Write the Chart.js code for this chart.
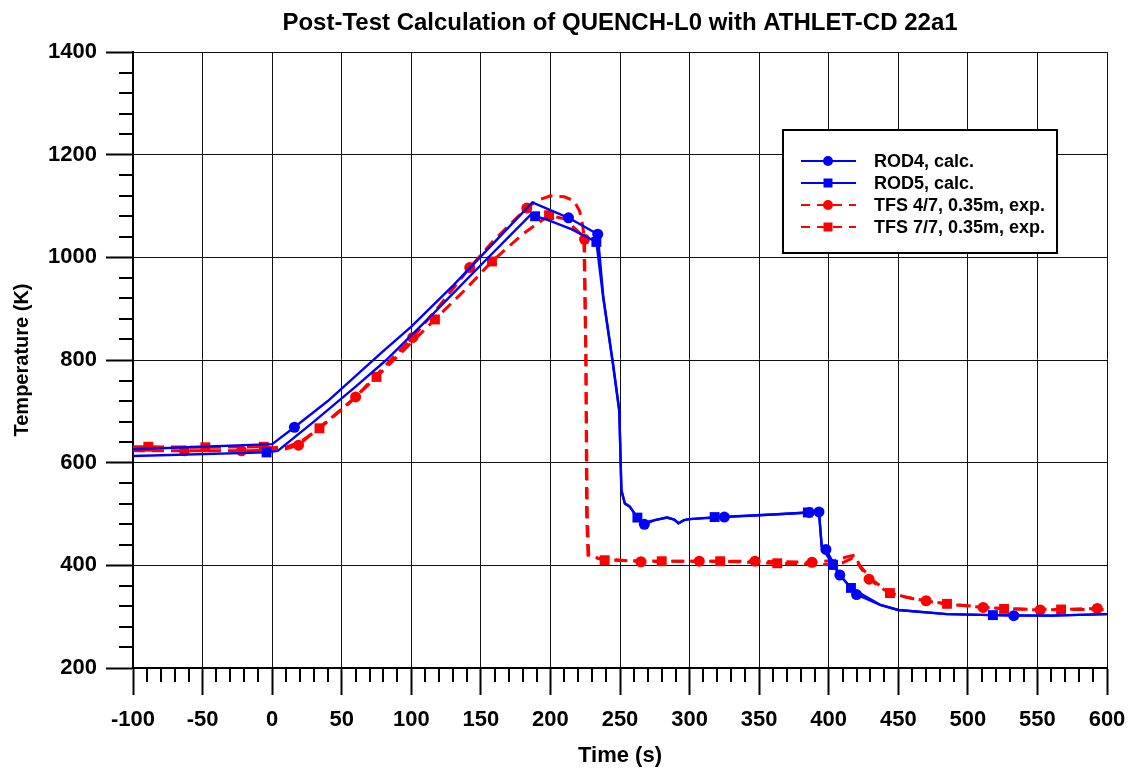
<!DOCTYPE html>
<html>
<head>
<meta charset="utf-8">
<title>QUENCH-L0</title>
<script src="https://cdn.jsdelivr.net/npm/chart.js@4.4.1/dist/chart.umd.min.js"></script>
<style>
  body { margin: 0; background: #fff; }
  #wrap { width: 1132px; height: 771px; position: relative; }
</style>
</head>
<body>
<div id="wrap"><canvas id="chart"></canvas></div>
<script>
// axis setup
const xMin = -100, xMax = 600, xStep = 50, xMinor = 10;
const yMin = 200, yMax = 1400, yStep = 200, yMinor = 40;

// ROD4, calc. (blue, circles)
const rod4Time = [-100, 0, 16, 40, 78, 100, 130, 160, 187, 213, 234, 238, 245, 249.5, 251, 253.5, 257, 262, 267.5, 275, 283.5, 289, 292, 296, 300, 325, 360, 386, 393, 395, 398, 408, 420, 437, 450, 485, 533, 560, 600];
const rod4Temp = [626, 636, 669, 720, 813, 865, 945, 1030, 1107, 1077, 1045, 923, 793, 702, 547, 521, 515, 495, 480, 488, 493, 489, 482, 488, 490, 494, 499, 503, 504, 436, 431, 381, 343, 323, 313, 305, 302, 302, 305];
const rod4Marks = [16, 213, 234, 267.5, 325, 386, 393, 398, 408, 420, 533];

// ROD5, calc. (blue, squares)
const rod5Time = [-100, -4, 4, 30, 60, 82, 100, 116, 150, 186.6, 189, 197, 215, 233, 238, 245, 249.5, 251, 253.5, 257, 262.5, 267, 275, 284, 289, 292, 296, 300, 318, 360, 385, 393, 395, 403, 408, 416, 437, 450, 485, 518, 560, 600];
const rod5Temp = [613, 620, 623, 680, 748, 800, 848, 891, 985, 1085, 1080, 1074, 1055, 1030, 920, 790, 700, 545, 520, 514, 493, 483, 488, 493, 489, 482, 488, 490, 494, 499, 503, 503, 436, 401, 381, 356, 323, 313, 305, 303, 302, 305];
const rod5Marks = [-4, 189, 233, 262.5, 318, 385, 403, 416, 518];

// TFS 4/7, 0.35m, exp. (red dashed, circles)
const tfs4Time = [-100, -63, -22, 0, 10, 19, 30, 45, 60, 80, 101, 120, 142, 160, 183, 190, 200, 210, 217, 221, 223, 224.5, 225.5, 226.5, 227.5, 235, 265, 290, 307, 347, 388, 405, 415, 419, 423, 429, 440, 455, 470, 490, 511, 552, 593, 600];
const tfs4Temp = [623, 623, 623, 624, 627, 634, 660, 693, 728, 785, 844, 905, 980, 1035, 1096, 1110, 1120, 1118, 1110, 1090, 1065, 1035, 800, 500, 420, 413, 407, 408, 408, 408, 406, 410, 418, 420, 395, 373, 352, 338, 331, 323, 318, 313, 316, 316];
const tfs4Marks = [-63, -22, 19, 60, 101, 142, 183, 224.5, 265, 307, 347, 388, 429, 470, 511, 552, 593];

// TFS 7/7, 0.35m, exp. (red dashed, squares)
const tfs7Time = [-100, -89, -48, -6, 0, 10, 20, 34, 55, 75, 95, 117, 138, 158, 180, 199, 210, 220, 224, 225.5, 226, 227, 239, 280, 322, 363, 403, 410, 417, 422, 432, 444, 465, 485, 526, 567, 600];
const tfs7Temp = [631, 631, 630, 631, 629, 630, 640, 667, 715, 767, 820, 879, 935, 992, 1045, 1082, 1075, 1050, 1040, 800, 500, 420, 410, 408, 408, 404, 401, 405, 414, 400, 370, 346, 332, 325, 315, 314, 314];
const tfs7Marks = [-89, -48, -6, 34, 75, 117, 158, 199, 239, 280, 322, 363, 403, 444, 485, 526, 567];

const seriesNames = ["ROD4, calc.", "ROD5, calc.", "TFS 4/7, 0.35m, exp.", "TFS 7/7, 0.35m, exp."];
const titleText = "Post-Test Calculation of QUENCH-L0 with ATHLET-CD 22a1";

const BLUE = "#0000ff";
const RED = "#ff0000";
const FONT = "'Liberation Sans', Arial, sans-serif";

function points(ts, vs) {
    return ts.map((t, i) => ({ x: t, y: vs[i] }));
}

function makeSet(label, ts, vs, marks, color, style, dashed) {
    const marked = new Set(marks);
    const r = style === "rect" ? 7 : 5.5;
    return {
        label: label,
        data: points(ts, vs),
        borderColor: color,
        backgroundColor: color,
        borderWidth: dashed ? 3 : 2.4,
        borderDash: dashed ? [12, 7] : [],
        pointStyle: style,
        pointRadius: ctx => marked.has(ctx.raw.x) ? r : 0,
        pointBorderWidth: 0,
        pointBackgroundColor: color,
        tension: 0,
        fill: false
    };
}

// minor ticks on the axes (major ones come from chart.js itself)
const minorTicks = {
    id: "minorTicks",
    afterDraw(chart) {
        const { ctx, scales: { x, y } } = chart;
        ctx.save();
        ctx.strokeStyle = "#000";
        ctx.lineWidth = 2;
        ctx.beginPath();
        for (let v = xMin; v <= xMax; v += xMinor) {
            if (v % xStep === 0) continue;
            const px = Math.round(x.getPixelForValue(v));
            ctx.moveTo(px, y.bottom);
            ctx.lineTo(px, y.bottom + 14);
        }
        for (let v = yMin; v <= yMax; v += yMinor) {
            if (v % yStep === 0) continue;
            const py = Math.round(y.getPixelForValue(v));
            ctx.moveTo(x.left, py);
            ctx.lineTo(x.left - 14, py);
        }
        ctx.stroke();
        ctx.restore();
    }
};

// title centered over the plot
const plotTitle = {
    id: "plotTitle",
    afterDraw(chart) {
        const { ctx, chartArea } = chart;
        ctx.save();
        ctx.fillStyle = "#000";
        ctx.font = "bold 24px " + FONT;
        ctx.textAlign = "center";
        ctx.textBaseline = "middle";
        ctx.fillText(titleText, (chartArea.left + chartArea.right) / 2, 23);
        ctx.restore();
    }
};

// boxed legend with line + marker samples
const boxLegend = {
    id: "boxLegend",
    afterDatasetsDraw(chart) {
        const { ctx } = chart;
        const bx = 783, by = 130, bw = 274, bh = 123;
        ctx.save();
        ctx.fillStyle = "#fff";
        ctx.fillRect(bx, by, bw, bh);
        ctx.strokeStyle = "#000";
        ctx.lineWidth = 2;
        ctx.strokeRect(bx, by, bw, bh);
        chart.data.datasets.forEach((ds, i) => {
            const yy = 161 + i * 22;
            ctx.strokeStyle = ds.borderColor;
            ctx.lineWidth = 2;
            ctx.setLineDash(ds.borderDash.length ? [9, 7] : []);
            ctx.beginPath();
            ctx.moveTo(801, yy);
            ctx.lineTo(856, yy);
            ctx.stroke();
            ctx.setLineDash([]);
            ctx.fillStyle = ds.borderColor;
            ctx.beginPath();
            if (ds.pointStyle === "rect") {
                ctx.rect(823.5, yy - 4.5, 9, 9);
            } else {
                ctx.arc(828, yy, 5, 0, Math.PI * 2);
            }
            ctx.fill();
            ctx.fillStyle = "#000";
            ctx.font = "bold 18px " + FONT;
            ctx.textAlign = "left";
            ctx.textBaseline = "middle";
            ctx.fillText(ds.label, 874, yy + 1);
        });
        ctx.restore();
    }
};

new Chart(document.getElementById("chart"), {
    type: "line",
    data: {
        datasets: [
            makeSet(seriesNames[0], rod4Time, rod4Temp, rod4Marks, BLUE, "circle", false),
            makeSet(seriesNames[1], rod5Time, rod5Temp, rod5Marks, BLUE, "rect", false),
            makeSet(seriesNames[2], tfs4Time, tfs4Temp, tfs4Marks, RED, "circle", true),
            makeSet(seriesNames[3], tfs7Time, tfs7Temp, tfs7Marks, RED, "rect", true)
        ]
    },
    options: {
        responsive: true,
        maintainAspectRatio: false,
        animation: false,
        layout: { padding: { top: 52, right: 25, left: 0, bottom: 0 } },
        plugins: {
            legend: { display: false },
            title: { display: false },
            tooltip: { enabled: false }
        },
        scales: {
            x: {
                type: "linear",
                min: xMin,
                max: xMax,
                afterFit(scale) {
                    scale.height = 103;
                    scale.paddingLeft = 0;
                    scale.paddingRight = 0;
                },
                ticks: {
                    stepSize: xStep,
                    color: "#000",
                    padding: 12,
                    maxRotation: 0,
                    font: { size: 22, weight: "bold", family: FONT }
                },
                grid: { color: "#111", lineWidth: 1, tickLength: 27, tickColor: "#000", tickWidth: 2 },
                border: { color: "#000", width: 2 },
                title: {
                    display: true,
                    text: "Time (s)",
                    color: "#000",
                    padding: { top: 0, bottom: 2 },
                    font: { size: 22, weight: "bold", family: FONT }
                }
            },
            y: {
                type: "linear",
                min: yMin,
                max: yMax,
                afterFit(scale) {
                    scale.width = 133;
                    scale.paddingTop = 0;
                    scale.paddingBottom = 0;
                },
                ticks: {
                    stepSize: yStep,
                    color: "#000",
                    padding: 9,
                    callback: v => String(v),
                    font: { size: 22, weight: "bold", family: FONT }
                },
                grid: { color: "#111", lineWidth: 1, tickLength: 27, tickColor: "#000", tickWidth: 2 },
                border: { color: "#000", width: 2 },
                title: {
                    display: true,
                    text: "Temperature (K)",
                    color: "#000",
                    padding: { top: 10, bottom: 0 },
                    font: { size: 20, weight: "bold", family: FONT }
                }
            }
        }
    },
    plugins: [minorTicks, plotTitle, boxLegend]
});
</script>
</body>
</html>
